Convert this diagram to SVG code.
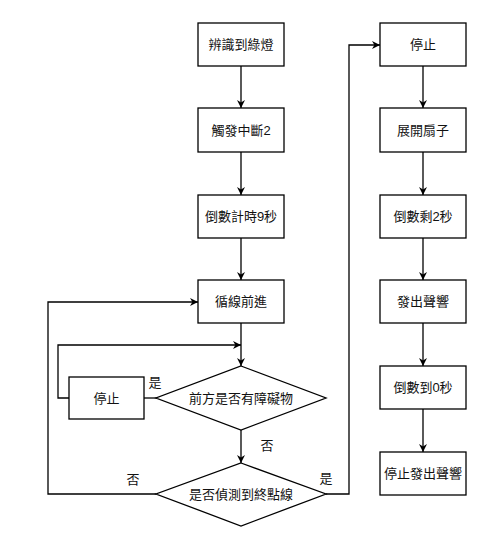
<svg xmlns="http://www.w3.org/2000/svg" width="500" height="549" viewBox="0 0 500 549">
<style>
.box{fill:#fff;stroke:#000;stroke-width:1.3}
.t{font-family:"Liberation Sans","Noto Sans CJK TC",sans-serif;font-size:13px;fill:#111;text-anchor:middle;dominant-baseline:central}
.c{fill:none;stroke:#000;stroke-width:1.3}
</style>
<defs>
<marker id="ah" viewBox="0 0 10 10" refX="10" refY="5" markerWidth="8" markerHeight="8" markerUnits="userSpaceOnUse" orient="auto">
<path d="M0,0 L10,5 L0,10 L3,5 Z" fill="#000"/>
</marker>
</defs>
<rect width="500" height="549" fill="#fff"/>
<g id="connectors">
<path class="c" d="M241,66 V108" marker-end="url(#ah)"/>
<path class="c" d="M241,152 V195" marker-end="url(#ah)"/>
<path class="c" d="M241,238 V280" marker-end="url(#ah)"/>
<path class="c" d="M241,323 V366" marker-end="url(#ah)"/>
<path class="c" d="M241,430 V463" marker-end="url(#ah)"/>
<path class="c" d="M157,398 H144"/>
<path class="c" d="M69,398 H58 V345 H241" marker-end="url(#ah)"/>
<path class="c" d="M156,494 H48 V302 H198" marker-end="url(#ah)"/>
<path class="c" d="M326,494 H349 V45 H380" marker-end="url(#ah)"/>
<path class="c" d="M423,66 V108" marker-end="url(#ah)"/>
<path class="c" d="M423,152 V195" marker-end="url(#ah)"/>
<path class="c" d="M423,238 V280" marker-end="url(#ah)"/>
<path class="c" d="M423,323 V366" marker-end="url(#ah)"/>
<path class="c" d="M423,409 V452" marker-end="url(#ah)"/>
<text class="t" x="155" y="382">是</text>
<text class="t" x="267" y="445">否</text>
<text class="t" x="133" y="479">否</text>
<text class="t" x="326" y="478">是</text>
</g>
<g id="n1"><rect class="box" x="198" y="23" width="86" height="43"/><text class="t" x="241" y="44.5">辨識到綠燈</text></g>
<g id="n2"><rect class="box" x="198" y="108" width="86" height="44"/><text class="t" x="241" y="130">觸發中斷2</text></g>
<g id="n3"><rect class="box" x="198" y="195" width="86" height="43"/><text class="t" x="241" y="216.5">倒數計時9秒</text></g>
<g id="n4"><rect class="box" x="198" y="280" width="86" height="43"/><text class="t" x="241" y="301.5">循線前進</text></g>
<g id="d1"><polygon class="box" points="241,366 326,398 241,430 156,398"/><text class="t" x="241" y="398">前方是否有障礙物</text></g>
<g id="n5"><rect class="box" x="69" y="377" width="75" height="42"/><text class="t" x="106.5" y="398">停止</text></g>
<g id="d2"><polygon class="box" points="241,463 326,494 241,526 156,494"/><text class="t" x="241" y="494">是否偵測到終點線</text></g>
<g id="r1"><rect class="box" x="380" y="23" width="86" height="43"/><text class="t" x="423" y="44.5">停止</text></g>
<g id="r2"><rect class="box" x="380" y="108" width="86" height="44"/><text class="t" x="423" y="130">展開扇子</text></g>
<g id="r3"><rect class="box" x="380" y="195" width="86" height="43"/><text class="t" x="423" y="216.5">倒數剩2秒</text></g>
<g id="r4"><rect class="box" x="380" y="280" width="86" height="43"/><text class="t" x="423" y="301.5">發出聲響</text></g>
<g id="r5"><rect class="box" x="380" y="366" width="86" height="43"/><text class="t" x="423" y="387.5">倒數到0秒</text></g>
<g id="r6"><rect class="box" x="380" y="452" width="86" height="43"/><text class="t" x="423" y="473.5">停止發出聲響</text></g>
</svg>
